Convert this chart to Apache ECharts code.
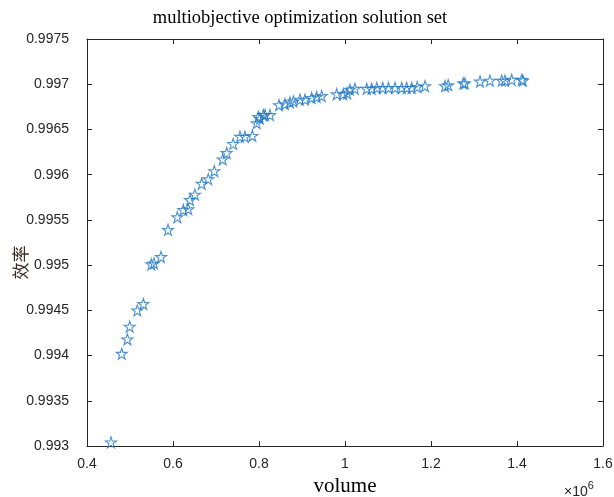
<!DOCTYPE html>
<html>
<head>
<meta charset="utf-8">
<script src="https://cdn.jsdelivr.net/npm/echarts@6/dist/echarts.min.js"></script>
<style>
  html, body { margin: 0; padding: 0; background: #fff; }
  #chart { width: 614px; height: 497px; }
</style>
</head>
<body>
<div id="chart"></div>
<script>
  // volume (x10^6) and efficiency of the solution set
  const volume = [
    0.4558, 0.4807, 0.4938, 0.4993, 0.517, 0.531, 0.5495, 0.5558, 0.572, 0.5884,
    0.610, 0.624, 0.6356, 0.6395, 0.651, 0.6667, 0.682, 0.696, 0.7156, 0.725,
    0.740, 0.7558, 0.767, 0.7845, 0.7946, 0.7984, 0.802, 0.810, 0.814, 0.8256,
    0.8465, 0.8605, 0.872, 0.880, 0.8953, 0.907, 0.9225, 0.934, 0.9458, 0.9807,
    0.996, 1.005, 1.0116, 1.023, 1.0505, 1.062, 1.074, 1.0877, 1.101, 1.1163,
    1.132, 1.1435, 1.155, 1.168, 1.186, 1.2326, 1.240, 1.275, 1.279, 1.314,
    1.337, 1.3644, 1.372, 1.3877, 1.411, 1.414
  ];
  const efficiency = [
    0.99304, 0.99402, 0.99418, 0.99432, 0.99450, 0.99457, 0.99501, 0.99502, 0.99509, 0.99539,
    0.99553, 0.99561, 0.99562, 0.99572, 0.99578, 0.99590, 0.99595, 0.99604, 0.99617, 0.99624,
    0.99634, 0.99642, 0.99642, 0.99643, 0.99657, 0.99664, 0.99662, 0.99666, 0.99666, 0.99666,
    0.99677, 0.99678, 0.99680, 0.99681, 0.99683, 0.99683, 0.99685, 0.99686, 0.99687, 0.99689,
    0.99689, 0.99690, 0.99694, 0.99695, 0.99695, 0.99695, 0.99696, 0.99696, 0.99696, 0.99696,
    0.99696, 0.99696, 0.99696, 0.99697, 0.99698, 0.99698, 0.99699, 0.99701, 0.99701, 0.99703,
    0.99704, 0.99704, 0.99704, 0.99705, 0.99705, 0.99704
  ];

  const xMin = 0.4, xMax = 1.6, xStep = 0.2;
  const yMin = 0.993, yMax = 0.9975, yStep = 0.0005;

  const axisColor = '#262626';
  const starPath = 'path://M50,2 L61,36 L97,36 L68,57 L79,92 L50,71 L21,92 L32,57 L3,36 L39,36 Z';

  const points = volume.map((v, i) => [v, efficiency[i]]);

  const chart = echarts.init(document.getElementById('chart'));

  const baseX = {
    type: 'value', min: xMin, max: xMax, interval: xStep,
    axisLine: { show: true, lineStyle: { color: axisColor, width: 1 } },
    axisTick: { show: true, inside: true, length: 5, lineStyle: { color: axisColor } },
    splitLine: { show: false }
  };
  const baseY = {
    type: 'value', min: yMin, max: yMax, interval: yStep,
    axisLine: { show: true, lineStyle: { color: axisColor, width: 1 } },
    axisTick: { show: true, inside: true, length: 5, lineStyle: { color: axisColor } },
    splitLine: { show: false }
  };

  chart.setOption({
    animation: false,
    backgroundColor: '#fff',
    title: {
      text: 'multiobjective optimization solution set',
      left: 295, top: 4, textAlign: 'center',
      textStyle: { fontFamily: 'Liberation Serif', fontSize: 18.5, fontWeight: 'normal', color: '#000' }
    },
    grid: { left: 87, right: 11, top: 39, bottom: 51, outerBoundsMode: 'none' },
    xAxis: [
      Object.assign({}, baseX, {
        position: 'bottom',
        name: 'volume', nameLocation: 'middle', nameGap: 27,
        nameTextStyle: { fontFamily: 'Liberation Serif', fontSize: 21, color: '#000' },
        axisLabel: {
          margin: 11, color: axisColor, fontFamily: 'Liberation Sans', fontSize: 14,
          formatter: v => String(parseFloat(v.toFixed(4)))
        }
      }),
      Object.assign({}, baseX, { position: 'top', axisLabel: { show: false } })
    ],
    yAxis: [
      Object.assign({}, baseY, {
        position: 'left',
        name: '效率', nameLocation: 'middle', nameGap: 58, nameRotate: 90,
        nameMoveOverlap: false,
        nameTextStyle: { fontFamily: 'Noto Sans CJK SC', fontSize: 17, color: '#3a2a20', padding: [0, 40, 0, 0] },
        axisLabel: {
          margin: 18, color: axisColor, fontFamily: 'Liberation Sans', fontSize: 14,
          formatter: v => String(parseFloat(v.toFixed(5)))
        }
      }),
      Object.assign({}, baseY, { position: 'right', axisLabel: { show: false } })
    ],
    graphic: [{
      type: 'text', left: 564, top: 480,
      style: {
        text: '{a|×10}{b|6}',
        rich: {
          a: { fontFamily: 'Liberation Sans', fontSize: 14, fill: axisColor, verticalAlign: 'bottom' },
          b: { fontFamily: 'Liberation Sans', fontSize: 11, fill: axisColor, verticalAlign: 'top', padding: [0, 0, 8, 0] }
        }
      }
    }],
    series: [{
      type: 'scatter',
      data: points,
      symbol: starPath,
      symbolSize: 11,
      itemStyle: { color: 'rgba(0,0,0,0)', borderColor: '#1f77c4', borderWidth: 1.1 }
    }]
  });
</script>
</body>
</html>
